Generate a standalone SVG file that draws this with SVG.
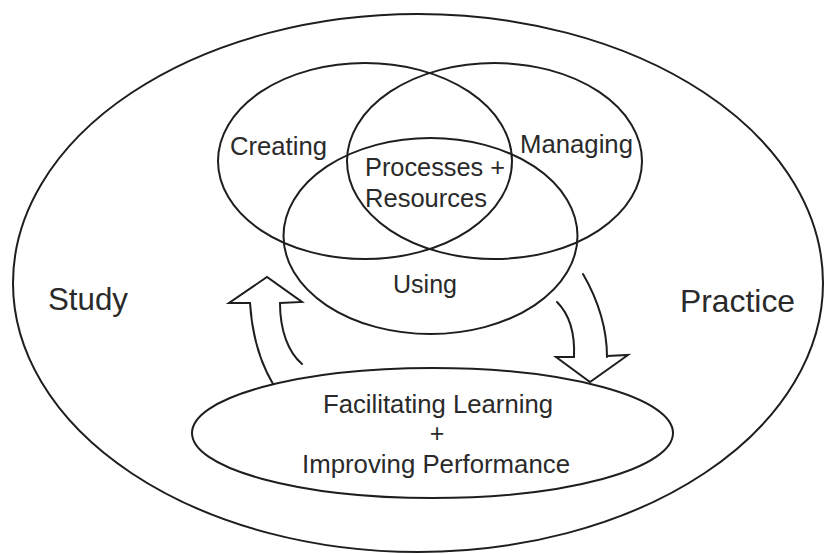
<svg xmlns="http://www.w3.org/2000/svg" width="827" height="554" viewBox="0 0 827 554">
  <style>
    .ring { fill: none; stroke: #1e1e1e; stroke-width: 2; }
    .arrow { fill: none; stroke: #1e1e1e; stroke-width: 2; stroke-linejoin: miter; stroke-linecap: round; }
    .lbl { font-family: "Liberation Sans", Arial, sans-serif; fill: #2a2a2a; text-anchor: middle; }
    .big { font-size: 32px; }
    .mid { font-size: 25px; }
  </style>
  <rect width="827" height="554" fill="#ffffff"/>

  <!-- outer domain: study and practice -->
  <g id="field">
    <ellipse class="ring" cx="418" cy="283" rx="405" ry="269"/>
    <text class="lbl big" x="88" y="310" textLength="80" lengthAdjust="spacingAndGlyphs">Study</text>
    <text class="lbl big" x="737.5" y="312" textLength="115" lengthAdjust="spacingAndGlyphs">Practice</text>
  </g>

  <!-- three overlapping activity circles -->
  <g id="creating">
    <ellipse class="ring" cx="365" cy="161" rx="147" ry="98"/>
    <text class="lbl mid" x="278.5" y="155" textLength="97" lengthAdjust="spacingAndGlyphs">Creating</text>
  </g>
  <g id="managing">
    <ellipse class="ring" cx="494.5" cy="161" rx="147.5" ry="98"/>
    <text class="lbl mid" x="576.5" y="153" textLength="113" lengthAdjust="spacingAndGlyphs">Managing</text>
  </g>
  <g id="using">
    <ellipse class="ring" cx="430.5" cy="236" rx="147" ry="98"/>
    <text class="lbl mid" x="425" y="293" textLength="64" lengthAdjust="spacingAndGlyphs">Using</text>
  </g>
  <g id="core">
    <text class="lbl mid" x="435" y="176" textLength="140" lengthAdjust="spacingAndGlyphs">Processes +</text>
    <text class="lbl mid" x="426" y="207" textLength="122" lengthAdjust="spacingAndGlyphs">Resources</text>
  </g>

  <!-- outcome ellipse -->
  <g id="outcome">
    <ellipse class="ring" cx="432.5" cy="433" rx="240.5" ry="65"/>
    <text class="lbl mid" x="438" y="413" textLength="230" lengthAdjust="spacingAndGlyphs">Facilitating Learning</text>
    <text class="lbl mid" x="437" y="442">+</text>
    <text class="lbl mid" x="436" y="473" textLength="268" lengthAdjust="spacingAndGlyphs">Improving Performance</text>
  </g>

  <!-- curved block arrows -->
  <g id="connectors">
    <path class="arrow" d="M250,303 C252,335 260,362 273,384"/>
    <path class="arrow" d="M280,303 C280,330 288,352 302,364"/>
    <path class="arrow" d="M250,303 L229,303 L267,277 L302,302 L280,303"/>
    <path class="arrow" d="M583,274 C598,300 607,330 607,357"/>
    <path class="arrow" d="M557,302 C570,315 575,335 574,357"/>
    <path class="arrow" d="M574,357 L556,357 L590,382 L628,355 L607,356"/>
  </g>
</svg>
